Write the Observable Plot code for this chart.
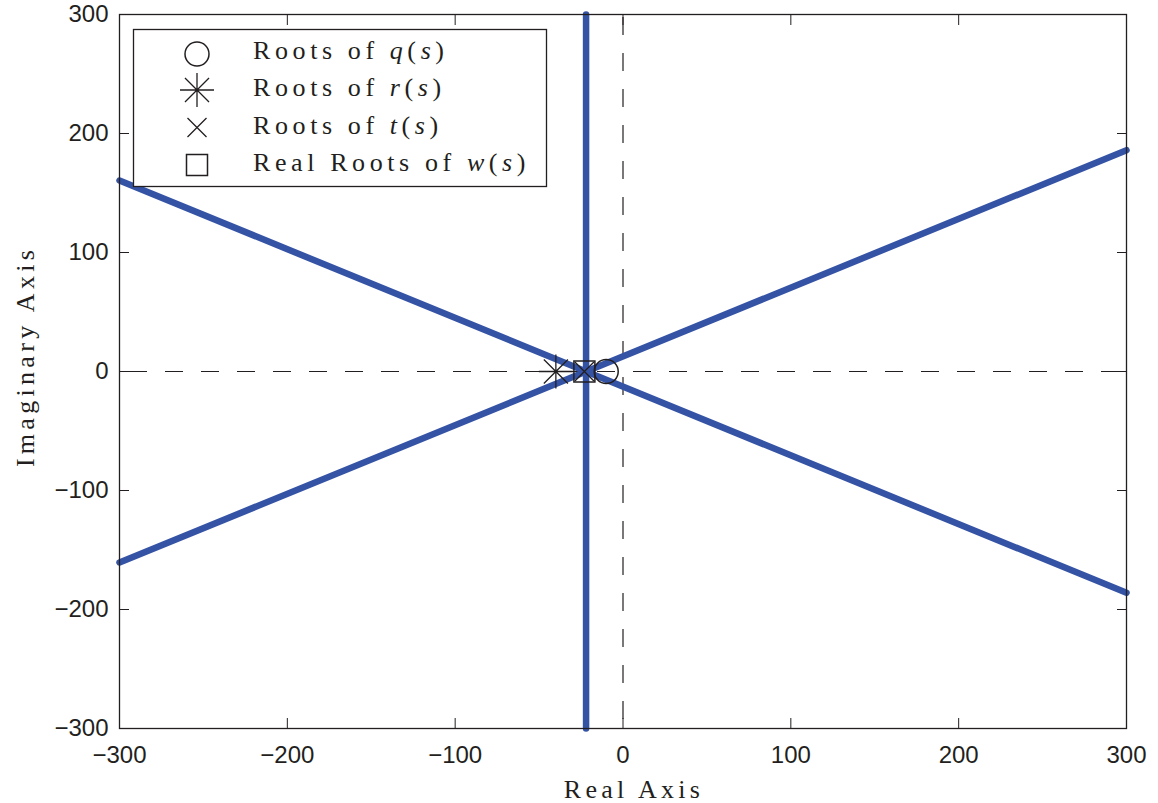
<!DOCTYPE html>
<html><head><meta charset="utf-8">
<script src="https://cdn.jsdelivr.net/npm/d3@7"></script>
<script src="https://cdn.jsdelivr.net/npm/@observablehq/plot@0.6"></script>
<style>
body{margin:0;background:#fff}
#wrap{position:relative;width:1158px;height:803px}
#legend{position:absolute;left:0;top:0;pointer-events:none}
#legend text{letter-spacing:4.6px}
</style></head><body><div id="wrap"></div>
<script>
// ---- data ----
const xTicks = [-300, -200, -100, 0, 100, 200, 300];
const yTicks = [-300, -200, -100, 0, 100, 200, 300];
const xDomain = [-300, 300];
const yDomain = [-300, 300];
const xTitle = "Real Axis";
const yTitle = "Imaginary Axis";
// root locus branches: straight asymptotes from centroid to the plot edge
const centroidRe = -22;
const centroidIm = 0;
const branchEndRe = [-300, 300, -300, 300, -22, -22];
const branchEndIm = [160.5, 186, -160.5, -186, 300, -300];
// roots
const qRootsRe = [-10];
const qRootsIm = [0];
const rRootsRe = [-40];
const rRootsIm = [0];
const tRootsRe = [-23];
const tRootsIm = [0];
const wRealRootsRe = [-23];
const wRealRootsIm = [0];
// legend
const legendSymbols = ["circle", "asterisk", "times", "square"];
const legendPre = ["Roots of ", "Roots of ", "Roots of ", "Real Roots of "];
const legendVar = ["q", "r", "t", "w"];

// ---- symbols ----
const symAsterisk = {draw(ctx, size) {
  const r = Math.sqrt(size / Math.PI), d = r * Math.SQRT1_2;
  ctx.moveTo(-r, 0); ctx.lineTo(r, 0);
  ctx.moveTo(0, -r); ctx.lineTo(0, r);
  ctx.moveTo(-d, -d); ctx.lineTo(d, d);
  ctx.moveTo(-d, d); ctx.lineTo(d, -d);
}};
const symTimes = {draw(ctx, size) {
  const r = Math.sqrt(size / Math.PI);
  ctx.moveTo(-r, -r); ctx.lineTo(r, r);
  ctx.moveTo(-r, r); ctx.lineTo(r, -r);
}};
const symSquare = {draw(ctx, size) {
  const r = Math.sqrt(size / Math.PI);
  ctx.rect(-r, -r, 2 * r, 2 * r);
}};
const symCircle = {draw(ctx, size) {
  const r = Math.sqrt(size / Math.PI);
  ctx.moveTo(r, 0); ctx.arc(0, 0, r, 0, 2 * Math.PI);
}};
const symbolMap = {circle: symCircle, asterisk: symAsterisk, times: symTimes, square: symSquare};
const symbolR = {circle: 12, asterisk: 17, times: 9.5, square: 10.5};

const branches = branchEndRe.map((re, i) => ({x1: centroidRe, y1: centroidIm, x2: re, y2: branchEndIm[i]}));
const pts = (re, im) => re.map((x, i) => ({x, y: im[i]}));

const ink = "#231f20";
const blue = "#3553a5";

const chart = Plot.plot({
  width: 1158, height: 803,
  marginLeft: 119, marginRight: 32, marginTop: 14, marginBottom: 75,
  style: {fontFamily: "'Liberation Sans', Arial, sans-serif", fontSize: "24px", color: ink, background: "white"},
  x: {domain: xDomain},
  y: {domain: yDomain},
  marks: [
    Plot.ruleX([0], {stroke: ink, strokeWidth: 1.2, strokeDasharray: "18,18", strokeDashoffset: 33}),
    Plot.ruleY([0], {stroke: ink, strokeWidth: 1.2, strokeDasharray: "18,18", strokeDashoffset: 26}),
    Plot.link(branches, {x1: "x1", y1: "y1", x2: "x2", y2: "y2", stroke: blue, strokeWidth: 6.5, strokeLinecap: "round"}),
    Plot.dot(pts(rRootsRe, rRootsIm), {x: "x", y: "y", symbol: symAsterisk, r: symbolR.asterisk, stroke: ink, strokeWidth: 1.3, fill: "none"}),
    Plot.dot(pts(wRealRootsRe, wRealRootsIm), {x: "x", y: "y", symbol: symSquare, r: symbolR.square, stroke: ink, strokeWidth: 1.5, fill: "none"}),
    Plot.dot(pts(tRootsRe, tRootsIm), {x: "x", y: "y", symbol: symTimes, r: symbolR.times, stroke: ink, strokeWidth: 1.3, fill: "none"}),
    Plot.dot(pts(qRootsRe, qRootsIm), {x: "x", y: "y", symbol: symCircle, r: symbolR.circle, stroke: ink, strokeWidth: 1.5, fill: "none"}),
    Plot.frame({stroke: ink, strokeWidth: 1.3}),
    Plot.axisX({ticks: xTicks, anchor: "bottom", tickSize: -10, tickPadding: 27, label: null, fontSize: 24}),
    Plot.axisY({ticks: yTicks, anchor: "left", tickSize: -10, tickPadding: 21, label: null, fontSize: 24}),
    Plot.axisX({ticks: xTicks, anchor: "top", tickSize: -10, tickFormat: () => "", label: null}),
    Plot.axisY({ticks: yTicks, anchor: "right", tickSize: -10, tickFormat: () => "", label: null}),
    Plot.text([xTitle], {text: d => d, frameAnchor: "bottom", dx: 11, dy: 61, lineAnchor: "middle", textAnchor: "middle",
      fontFamily: "'Liberation Serif', serif", fontSize: 26, fill: ink}),
    Plot.text([yTitle], {text: d => d, frameAnchor: "left", rotate: -90, dx: -94, dy: -15, lineAnchor: "middle", textAnchor: "middle",
      fontFamily: "'Liberation Serif', serif", fontSize: 26, fill: ink})
  ]
});
d3.select(chart).selectAll("text")
  .filter(function () { return this.textContent === xTitle || this.textContent === yTitle; })
  .style("letter-spacing", "4.3px");
const wrap = document.getElementById("wrap");
wrap.appendChild(chart);

// ---- legend overlay ----
const lg = d3.select(wrap).append("svg").attr("id", "legend").attr("width", 1158).attr("height", 803);
lg.append("rect").attr("x", 133.5).attr("y", 29.5).attr("width", 413).attr("height", 157)
  .attr("fill", "white").attr("stroke", ink).attr("stroke-width", 1.3);
const markerY = [54, 90, 127.5, 165];
const baseY = [58.5, 96, 133.5, 171];
legendSymbols.forEach((s, i) => {
  lg.append("path").attr("transform", `translate(197,${markerY[i]})`)
    .attr("d", d3.symbol(symbolMap[s], Math.PI * symbolR[s] ** 2)())
    .attr("fill", "none").attr("stroke", ink).attr("stroke-width", s === "asterisk" || s === "times" ? 1.3 : 1.5);
  const t = lg.append("text").attr("x", 253).attr("y", baseY[i])
    .attr("font-family", "'Liberation Serif', serif").attr("font-size", 26).attr("fill", ink);
  t.append("tspan").text(legendPre[i]);
  t.append("tspan").attr("font-style", "italic").text(legendVar[i]);
  t.append("tspan").text("(");
  t.append("tspan").attr("font-style", "italic").text("s");
  t.append("tspan").text(")");
});
</script></body></html>
